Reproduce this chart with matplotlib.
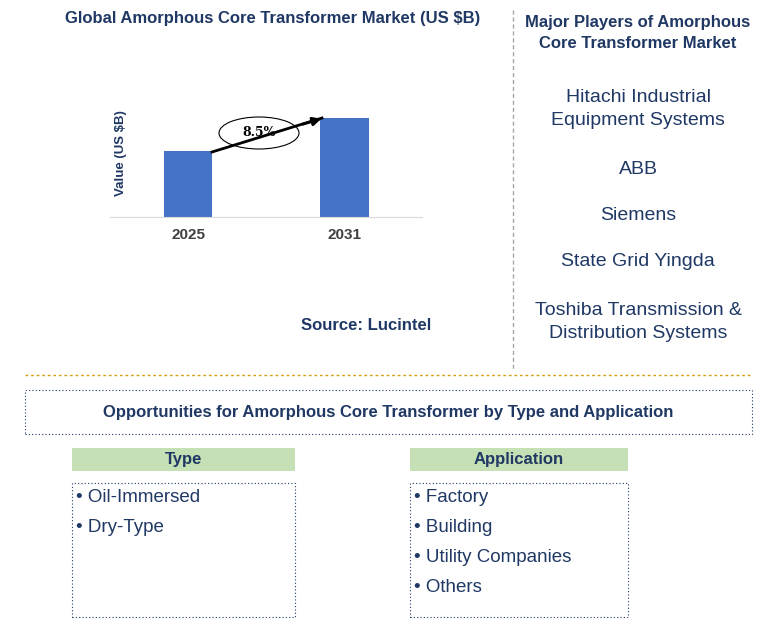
import matplotlib.pyplot as plt
from matplotlib.patches import Rectangle, Ellipse

plt.rcParams['font.family'] = 'Liberation Sans'

W, H = 781, 637
years = ['2025', '2031']
values = [2.0, 3.0]
cagr = '8.5%'
players = ['Hitachi Industrial\nEquipment Systems', 'ABB', 'Siemens',
           'State Grid Yingda', 'Toshiba Transmission &\nDistribution Systems']
player_y = [109, 170, 216, 262, 322]
types = ['Oil-Immersed', 'Dry-Type']
applications = ['Factory', 'Building', 'Utility Companies', 'Others']

fig = plt.figure(figsize=(W / 100, H / 100), dpi=100)


def fx(x):
    return x / W


def fy(y):
    return 1 - y / H


def txt(x, y, s, **kw):
    fig.text(fx(x), fy(y), s, **kw)


def box(x0, y0, x1, y1, **kw):
    fig.patches.append(Rectangle((fx(x0), fy(y1)), fx(x1) - fx(x0), fy(y0) - fy(y1),
                                 transform=fig.transFigure, **kw))


# bar chart
ax = fig.add_axes([fx(110), fy(217), fx(422) - fx(110), fy(90) - fy(217)])
ax.bar(range(len(years)), values, width=0.31, color='#4472C4')
ax.set_xlim(-0.5, 1.495)
ax.set_ylim(0, 3.85)
ax.set_xticks(range(len(years)))
ax.set_xticklabels(years, fontsize=11, fontweight='bold', color='#404040')
ax.tick_params(axis='x', length=0, pad=8)
ax.set_yticks([])
for s in ['top', 'right', 'left']:
    ax.spines[s].set_visible(False)
ax.spines['bottom'].set_color('#d9d9d9')
ax.set_ylabel('Value (US $B)', fontsize=9.5, fontweight='bold', color='#1f3864', labelpad=-12)

fig.add_artist(plt.Line2D([fx(212), fx(322)], [fy(152), fy(118)], color='black', lw=2,
                          transform=fig.transFigure))
ax.annotate('', xy=(fx(324), fy(118)), xytext=(fx(300), fy(125)),
            xycoords='figure fraction',
            arrowprops=dict(arrowstyle='-|>', color='black', lw=2, mutation_scale=12))
fig.patches.append(Ellipse((fx(259), fy(133)), fx(80), 32 / H, transform=fig.transFigure,
                           facecolor='white', edgecolor='black', lw=0.8))
txt(259, 133, cagr, ha='center', va='center', fontsize=9, fontweight='bold', family='DejaVu Serif')

txt(273, 18, 'Global Amorphous Core Transformer Market (US $B)', ha='center', va='center',
    fontsize=12, fontweight='bold', color='#1f3864')
txt(366, 326, 'Source: Lucintel', ha='center', va='center', fontsize=12,
    fontweight='bold', color='#1f3864')

# players
fig.add_artist(plt.Line2D([fx(513), fx(513)], [fy(10), fy(370)], color='#a6a6a6', lw=1,
                          ls=(0, (3, 2)), transform=fig.transFigure))
txt(638, 33, 'Major Players of Amorphous\nCore Transformer Market', ha='center', va='center',
    fontsize=12, fontweight='bold', color='#1f3864', linespacing=1.45)
for p, y in zip(players, player_y):
    txt(638, y, p, ha='center', va='center', fontsize=14, color='#1f3864', linespacing=1.45)

fig.add_artist(plt.Line2D([fx(25), fx(752)], [fy(375), fy(375)], color='#d4a017', lw=1,
                          ls=(0, (2, 2)), transform=fig.transFigure))

box(25, 390, 752, 434, facecolor='none', edgecolor='#1f3864', lw=0.8, ls=(0, (1, 2)))
txt(388, 412, 'Opportunities for Amorphous Core Transformer by Type and Application',
    ha='center', va='center', fontsize=12, fontweight='bold', color='#1f3864')

for (x0, x1, title, items) in [(72, 295, 'Type', types), (410, 628, 'Application', applications)]:
    box(x0, 448, x1, 471, facecolor='#c5e0b4', edgecolor='none')
    txt((x0 + x1) / 2, 459.5, title, ha='center', va='center', fontsize=12,
        fontweight='bold', color='#1f3864')
    box(x0, 483, x1, 617, facecolor='none', edgecolor='#1f3864', lw=0.8, ls=(0, (1, 2)))
    for i, it in enumerate(items):
        txt(x0 + 4, 497 + 30 * i, '\u2022 ' + it, ha='left', va='center', fontsize=13.5,
            color='#1f3864')

fig.savefig('out.png', dpi=100)
